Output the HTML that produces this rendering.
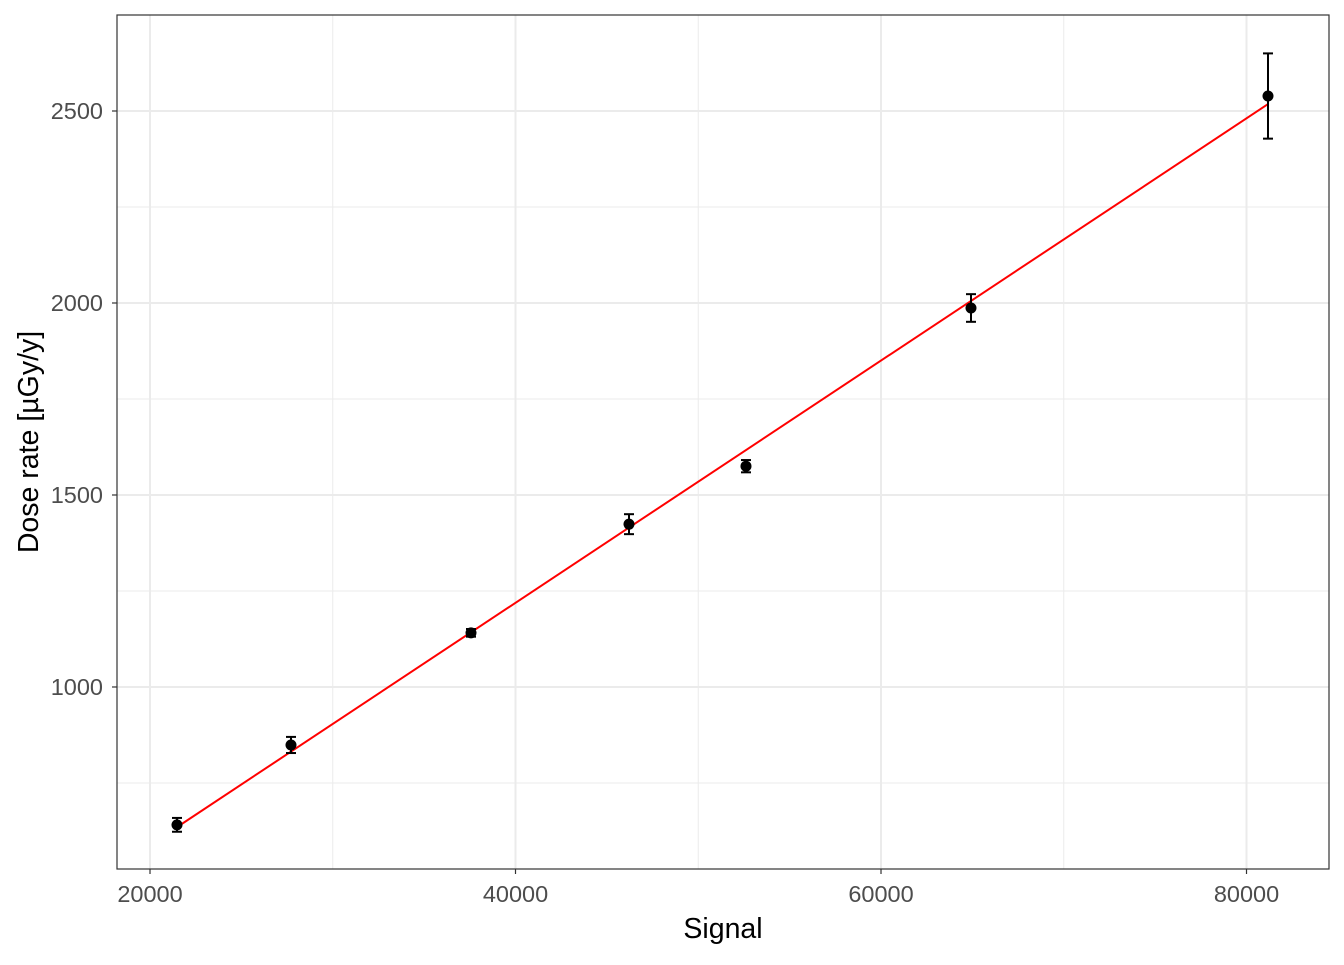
<!DOCTYPE html>
<html><head><meta charset="utf-8"><style>
body{margin:0;background:#fff;}
svg text{font-family:"Liberation Sans",sans-serif;}
</style></head><body>
<svg id="chart" width="1344" height="960"></svg>
<script>
const signal=[21477,27715,37565,46210,52612,64924,81176];
const doseRate=[641,849,1141,1424,1575,1987,2539];
const doseErr=[18,21,10,26,16,36,111];
const fitSlope=(2518-635)/(81176-21477);
const fitIntercept=635-fitSlope*21477;
const xTicks=[20000,40000,60000,80000];
const xMinor=[30000,50000,70000];
const yTicks=[1000,1500,2000,2500];
const yMinor=[750,1250,1750,2250];
const L=117,R=1329,T=15,B=869;
const xMin=18194,xMax=84514,yMin=526,yMax=2750;
const sx=v=>L+(v-xMin)/(xMax-xMin)*(R-L);
const sy=v=>B-(v-yMin)/(yMax-yMin)*(B-T);
const svg=document.getElementById('chart');
const NS='http://www.w3.org/2000/svg';
function mk(tag,attrs,parent){const e=document.createElementNS(NS,tag);for(const k in attrs)e.setAttribute(k,attrs[k]);(parent||svg).appendChild(e);return e;}
const grid=mk('g',{});


xMinor.forEach(v=>mk('line',{x1:sx(v),x2:sx(v),y1:T,y2:B,stroke:'#ebebeb','stroke-width':1},grid));
yMinor.forEach(v=>mk('line',{x1:L,x2:R,y1:sy(v),y2:sy(v),stroke:'#ebebeb','stroke-width':1},grid));
xTicks.forEach(v=>mk('line',{x1:sx(v),x2:sx(v),y1:T,y2:B,stroke:'#ebebeb','stroke-width':2},grid));
yTicks.forEach(v=>mk('line',{x1:L,x2:R,y1:sy(v),y2:sy(v),stroke:'#ebebeb','stroke-width':2},grid));
const fit=mk('line',{x1:sx(signal[0]),y1:sy(fitIntercept+fitSlope*signal[0]),x2:sx(signal[6]),y2:sy(fitIntercept+fitSlope*signal[6]),stroke:'#ff0000','stroke-width':2});


signal.forEach((x,i)=>{
  const g=mk('g',{});
  
  
  const cx=sx(x),y0=sy(doseRate[i]-doseErr[i]),y1=sy(doseRate[i]+doseErr[i]);
  mk('line',{x1:cx,x2:cx,y1:y0,y2:y1,stroke:'#000','stroke-width':2},g);
  mk('line',{x1:cx-5,x2:cx+5,y1:y0,y2:y0,stroke:'#000','stroke-width':2},g);
  mk('line',{x1:cx-5,x2:cx+5,y1:y1,y2:y1,stroke:'#000','stroke-width':2},g);
  mk('circle',{cx:cx,cy:sy(doseRate[i]),r:5.5,fill:'#000'},g);
});
const frame=mk('rect',{x:L,y:T,width:R-L,height:B-T,fill:'none',stroke:'#333','stroke-width':1.2});


xTicks.forEach(v=>{
  mk('line',{x1:sx(v),x2:sx(v),y1:B,y2:B+5,stroke:'#333','stroke-width':1.2});
  const t=mk('text',{x:sx(v),y:B+33,'text-anchor':'middle','font-size':'23.5',fill:'#4d4d4d'});
  t.textContent=v;
  
  
});
yTicks.forEach(v=>{
  mk('line',{x1:L-5,x2:L,y1:sy(v),y2:sy(v),stroke:'#333','stroke-width':1.2});
  const t=mk('text',{x:L-14,y:sy(v)+8,'text-anchor':'end','font-size':'23.5',fill:'#4d4d4d'});
  t.textContent=v;
  
  
});
const xt=mk('text',{x:(L+R)/2,y:938,'text-anchor':'middle','font-size':'28.5',fill:'#000'});
xt.textContent='Signal';


const yt=mk('text',{x:38,y:(T+B)/2,'text-anchor':'middle','font-size':'28.5',fill:'#000',transform:'rotate(-90 38 '+((T+B)/2)+')'});
yt.textContent='Dose rate [µGy/y]';


</script>
</body></html>
